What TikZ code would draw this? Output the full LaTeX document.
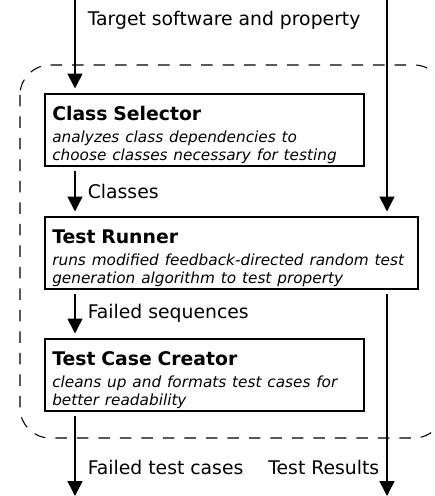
\documentclass[tikz,border=0pt]{standalone}
\usepackage{fontspec}
\setmainfont{DejaVu Sans}
\usetikzlibrary{arrows.meta,positioning}

\newcommand{\boxtitle}[1]{{\fontsize{10.7}{13}\selectfont\bfseries\rule{0pt}{15.3pt}#1\par}\vspace{2.3pt}}
\newcommand{\boxdesc}[1]{{\fontsize{8.7}{10.2}\selectfont\itshape #1\rule[-3pt]{0pt}{0pt}\par}}

\begin{document}
\begin{tikzpicture}[x=0.02cm,y=-0.02cm,
    box/.style={draw, line width=0.9pt, rectangle, align=left, anchor=north west,
        inner xsep=0.15cm, inner ysep=0pt},
    flow/.style={line width=0.9pt, -{Triangle[width=0.3cm,length=0.3cm]},
        shorten >=0.09cm, shorten <=0.08cm},
    lbl/.style={font=\fontsize{10.7}{13}\selectfont, inner sep=0pt}]
    \useasboundingbox (0,0) rectangle (434,496);
    % dashed frame round the tool
    \draw[dash pattern=on 0.23cm off 0.2cm, line width=0.6pt, rounded corners=0.6cm] (20,65) rectangle (444,438);
    \node[box, text width=6.08cm] at (44,93) (sel) {\boxtitle{Class Selector}\boxdesc{analyzes class dependencies to\\choose classes necessary for testing}};
    \node[box, text width=7.16cm] at (44,216) (run) {\boxtitle{Test Runner}\boxdesc{runs modified feedback-directed random test\\generation algorithm to test property}};
    \node[box, text width=6.08cm] at (44,338) (cre) {\boxtitle{Test Case Creator}\boxdesc{cleans up and formats test cases for\\better readability}};
    \coordinate (tl) at (75,0);
    \coordinate (tr) at (387,0);
    \coordinate (bl) at (75,496);
    \coordinate (br) at (387,496);
    \draw[flow, shorten <=0pt] (tl) -- (tl |- sel.north) node[lbl, pos=0.22, anchor=west, xshift=0.24cm] {Target software and property};
    \draw[flow, shorten <=0pt] (tr) -- (tr |- run.north);
    \draw[flow] (tl |- sel.south) -- (tl |- run.north) node[lbl, midway, anchor=west, xshift=0.24cm] {Classes};
    \draw[flow] (tl |- run.south) -- (tl |- cre.north) node[lbl, midway, anchor=west, xshift=0.24cm] {Failed sequences};
    \draw[flow, shorten >=0pt] (tl |- cre.south) -- (bl) node[lbl, pos=0.66, anchor=west, xshift=0.24cm] {Failed test cases};
    \draw[flow, shorten >=0pt] (tr |- run.south) -- (br) node[lbl, pos=0.86, anchor=east, xshift=-0.14cm] {Test Results};
\end{tikzpicture}
\end{document}
